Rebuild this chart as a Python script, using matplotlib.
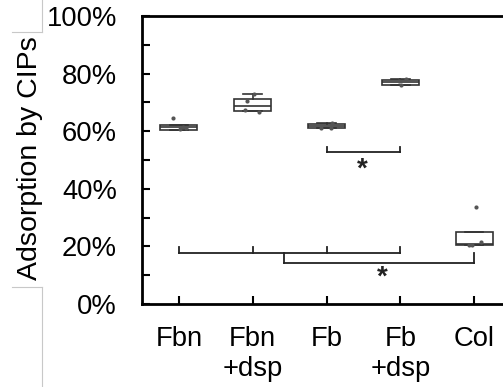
import matplotlib
matplotlib.use("Agg")
import matplotlib.pyplot as plt
from matplotlib.lines import Line2D
from matplotlib.ticker import PercentFormatter, MultipleLocator

plt.rcParams['font.family'] = ['Liberation Sans', 'DejaVu Sans']

# -------------------------
# data (fractions)
# -------------------------
labels = ["Fbn", "Fbn\n+dsp", "Fb", "Fb\n+dsp", "Col"]
q1 = [0.604, 0.670, 0.612, 0.762, 0.204]
med = [0.613, 0.689, 0.619, 0.771, 0.208]
q3 = [0.622, 0.712, 0.626, 0.778, 0.249]
whis_lo = [0.604, 0.670, 0.612, 0.760, 0.204]
whis_hi = [0.622, 0.730, 0.628, 0.780, 0.249]
points = [
    [0.646, 0.613, 0.608, 0.610],
    [0.730, 0.705, 0.672, 0.667],
    [0.628, 0.611, 0.612],
    [0.780, 0.773, 0.760],
    [0.338, 0.215, 0.204, 0.204],
]
point_dx = [
    [-0.08, 0.05, 0.02, 0.10],
    [0.02, -0.08, -0.10, 0.08],
    [0.07, -0.08, 0.06],
    [0.08, -0.02, 0.01],
    [0.02, 0.10, -0.07, -0.03],
]

# significance brackets: (x start, x end, y, tick x positions, tick top y)
brackets = [
    (3, 4, 0.527, [3, 4], 0.546),
    (1, 4, 0.178, [1, 2, 3, 4], 0.198),
    (2.43, 5, 0.143, [2.43, 5], 0.178),
]
stars = [(3.49, 0.468), (3.76, 0.090)]

# -------------------------
# figure
# -------------------------
W, H = 503, 387
fig = plt.figure(figsize=(W / 100, H / 100), dpi=100)
ax = fig.add_axes([142 / W, (H - 304) / H, (511 - 142) / W, (304 - 16) / H])

stats = []
for i in range(len(labels)):
    stats.append(dict(q1=q1[i], med=med[i], q3=q3[i],
                      whislo=whis_lo[i], whishi=whis_hi[i], fliers=[]))

ax.bxp(stats, positions=range(1, 6), widths=0.5, patch_artist=True,
       boxprops=dict(facecolor="white", edgecolor="#333333", linewidth=1.2),
       medianprops=dict(color="#333333", linewidth=1.2),
       whiskerprops=dict(color="#333333", linewidth=1.2),
       capprops=dict(color="#333333", linewidth=1.2), capwidths=0.25,
       showfliers=False)

for i, pts in enumerate(points):
    xs = [i + 1 + d for d in point_dx[i]]
    ax.scatter(xs, pts, s=9, color="#555555", zorder=3, linewidths=0)

for x0, x1, y, tx, ty in brackets:
    ax.plot([x0, x1], [y, y], color="#222222", lw=1.3)
    for t in tx:
        ax.plot([t, t], [y, ty], color="#222222", lw=1.3)
for sx, sy in stars:
    ax.text(sx, sy, "*", ha="center", va="center", fontsize=20,
            fontweight="bold", color="#222222")

ax.set_xlim(0.5, 5.5)
ax.set_ylim(0, 1)
ax.set_xticks(range(1, 6))
ax.set_xticklabels(labels)
ax.yaxis.set_major_locator(MultipleLocator(0.2))
ax.yaxis.set_minor_locator(MultipleLocator(0.1))
ax.yaxis.set_major_formatter(PercentFormatter(1.0, decimals=0))
ax.tick_params(axis="both", which="both", direction="in", length=6, width=1.5,
               labelsize=19.7, colors="black")
ax.tick_params(axis="y", pad=18)
ax.tick_params(axis="x", pad=16)
for s in ax.spines.values():
    s.set_linewidth(2)

fig.text(30 / W, 1 - 158 / H, "Adsorption by CIPs", rotation=90,
         ha="center", va="center", fontsize=20.5)

# faint grey frame fragments left of the axis
grey = "#c8c8c8"
for xs, ys in [([42, 42], [0, 32]), ([12, 42], [32, 32]),
               ([12, 42], [287, 287]), ([42, 42], [287, 387])]:
    fig.add_artist(Line2D([x / W for x in xs], [1 - y / H for y in ys],
                          transform=fig.transFigure, color=grey, lw=0.8))

fig.savefig("out.png", dpi=100)
